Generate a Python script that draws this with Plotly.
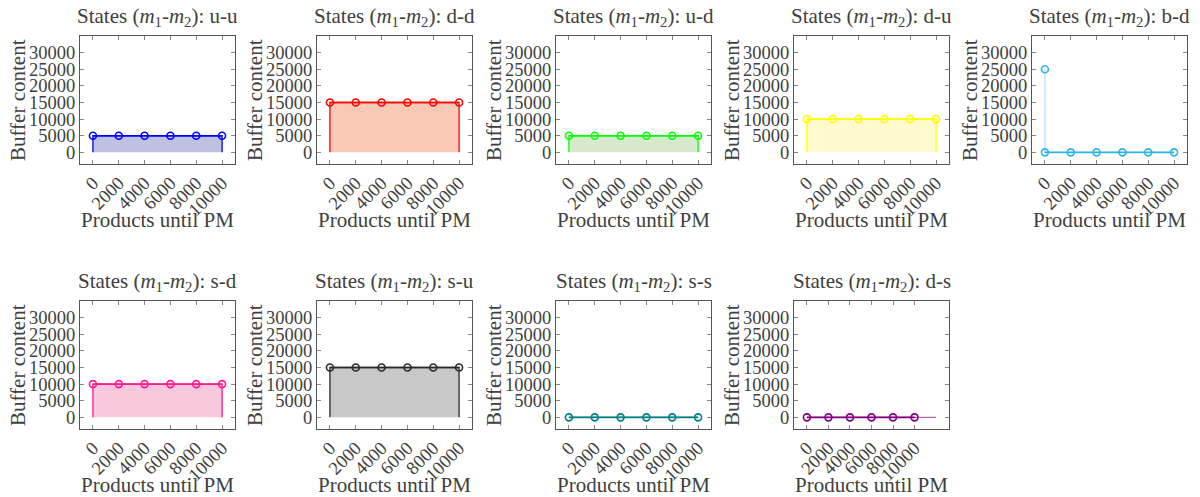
import plotly.graph_objects as go

# ---------------- data ----------------
states = ["u-u", "d-d", "u-d", "d-u", "b-d", "s-d", "s-u", "s-s", "d-s"]

products_uu = [0, 2000, 4000, 6000, 8000, 10000]
buffer_uu = [5000, 5000, 5000, 5000, 5000, 5000]
products_dd = [0, 2000, 4000, 6000, 8000, 10000]
buffer_dd = [15000, 15000, 15000, 15000, 15000, 15000]
products_ud = [0, 2000, 4000, 6000, 8000, 10000]
buffer_ud = [5000, 5000, 5000, 5000, 5000, 5000]
products_du = [0, 2000, 4000, 6000, 8000, 10000]
buffer_du = [10000, 10000, 10000, 10000, 10000, 10000]
products_bd = [0, 0, 2000, 4000, 6000, 8000, 10000]
buffer_bd = [25000, 0, 0, 0, 0, 0, 0]
products_sd = [0, 2000, 4000, 6000, 8000, 10000]
buffer_sd = [10000, 10000, 10000, 10000, 10000, 10000]
products_su = [0, 2000, 4000, 6000, 8000, 10000]
buffer_su = [15000, 15000, 15000, 15000, 15000, 15000]
products_ss = [0, 2000, 4000, 6000, 8000, 10000]
buffer_ss = [0, 0, 0, 0, 0, 0]
products_ds = [0, 2000, 4000, 6000, 8000, 10000]
buffer_ds = [0, 0, 0, 0, 0, 0]
# filled area of d-s extends further than the markers
fill_products_ds = [0, 2000, 4000, 6000, 8000, 10000, 12000]
fill_buffer_ds = [0, 0, 0, 0, 0, 0, 0]

x_ticks = [0, 2000, 4000, 6000, 8000, 10000]
y_ticks = [0, 5000, 10000, 15000, 20000, 25000, 30000]
y_range = [-3500, 35000]

series = {
    "u-u": (products_uu, buffer_uu, products_uu, buffer_uu),
    "d-d": (products_dd, buffer_dd, products_dd, buffer_dd),
    "u-d": (products_ud, buffer_ud, products_ud, buffer_ud),
    "d-u": (products_du, buffer_du, products_du, buffer_du),
    "b-d": (products_bd, buffer_bd, products_bd, buffer_bd),
    "s-d": (products_sd, buffer_sd, products_sd, buffer_sd),
    "s-u": (products_su, buffer_su, products_su, buffer_su),
    "s-s": (products_ss, buffer_ss, products_ss, buffer_ss),
    "d-s": (products_ds, buffer_ds, fill_products_ds, fill_buffer_ds),
}

# ---------------- styles ----------------
line_colors = {"u-u": "#0000ff", "d-d": "#ff0000", "u-d": "#00ff00", "d-u": "#ffff00",
               "b-d": "#2fb4ea", "s-d": "#ff1a94", "s-u": "#2a2a2a", "s-s": "#008080",
               "d-s": "#800080"}
edge_colors = {"u-u": "#0000ff", "d-d": "#ff0000", "u-d": "#00ff00", "d-u": "#ffff00",
               "b-d": "#b5e3f7", "s-d": "#ff1a94", "s-u": "#2a2a2a", "s-s": "#008080",
               "d-s": "#b070b0"}
fill_colors = {"u-u": "#bfc1e1", "d-d": "#f9c9b5", "u-d": "#d6eacb", "d-u": "#fffacd",
               "b-d": "#b3e5fc", "s-d": "#f8c9dd", "s-u": "#c8c8c8", "s-s": "#b2d8d8",
               "d-s": "#d8b2d8"}

W, H = 1200, 497
col_left = [80, 317, 556, 794, 1032]
box_w = 155
row_top = [36, 301]
box_h = 128

FONT = "Liberation Serif"
TXT = "#404040"

fig = go.Figure()
annotations = []

for i, st in enumerate(states):
    r, c = divmod(i, 5)
    n = i + 1
    xa = "x" if n == 1 else f"x{n}"
    ya = "y" if n == 1 else f"y{n}"
    px, py, fx, fy = series[st]

    # filled polygon (area under curve down to zero)
    poly_x = [fx[0]] + list(fx) + [fx[-1]]
    poly_y = [0] + list(fy) + [0]
    fig.add_trace(go.Scatter(x=poly_x, y=poly_y, mode="lines", fill="toself",
                             fillcolor=fill_colors[st],
                             line=dict(color=edge_colors[st], width=1.3),
                             xaxis=xa, yaxis=ya, showlegend=False, hoverinfo="skip"))
    # main line: break where consecutive points share the same x
    lx, ly = [], []
    for k in range(len(px)):
        if k > 0 and px[k] == px[k - 1]:
            lx.append(None)
            ly.append(None)
        lx.append(px[k])
        ly.append(py[k])
    fig.add_trace(go.Scatter(x=lx, y=ly, mode="lines",
                             line=dict(color=line_colors[st], width=1.6),
                             xaxis=xa, yaxis=ya, showlegend=False))
    fig.add_trace(go.Scatter(x=px, y=py, mode="markers",
                             marker=dict(symbol="circle-open", size=7,
                                         color=line_colors[st],
                                         line=dict(width=1.6, color=line_colors[st])),
                             xaxis=xa, yaxis=ya, showlegend=False))

    all_x = list(px) + list(fx)
    span = max(all_x) - min(all_x)
    xr = [min(all_x) - 0.1 * span, max(all_x) + 0.1 * span]

    x0 = col_left[c] / W
    x1 = (col_left[c] + box_w) / W
    y1 = 1 - row_top[r] / H
    y0 = 1 - (row_top[r] + box_h) / H

    axis_common = dict(showline=True, linecolor="#555555", linewidth=1, mirror="ticks",
                       ticks="inside", ticklen=4, tickcolor="#888888", tickwidth=1,
                       showgrid=False, zeroline=False,
                       tickfont=dict(family=FONT, size=18.5, color=TXT))
    fig.layout[("xaxis" if n == 1 else f"xaxis{n}")] = dict(
        domain=[x0, x1], anchor=ya, range=xr, tickvals=x_ticks,
        ticktext=[str(v) for v in x_ticks], tickangle=-45, **axis_common)
    fig.layout[("yaxis" if n == 1 else f"yaxis{n}")] = dict(
        domain=[y0, y1], anchor=xa, range=y_range, tickvals=y_ticks,
        ticktext=[str(v) for v in y_ticks], **axis_common)

    cx = (x0 + x1) / 2
    annotations.append(dict(
        text=f"States (<i>m</i><sub>1</sub>-<i>m</i><sub>2</sub>): {st}",
        x=cx, y=1 - (row_top[r] - 19) / H, xref="paper", yref="paper",
        xanchor="center", yanchor="middle", showarrow=False,
        font=dict(family=FONT, size=21, color=TXT)))
    annotations.append(dict(
        text="Products until PM", x=cx, y=1 - (row_top[r] + box_h + 56) / H,
        xref="paper", yref="paper", xanchor="center", yanchor="middle",
        showarrow=False, font=dict(family=FONT, size=21, color=TXT)))
    annotations.append(dict(
        text="Buffer content", x=(col_left[c] - 62) / W,
        y=1 - (row_top[r] + box_h / 2) / H, xref="paper", yref="paper",
        xanchor="center", yanchor="middle", textangle=-90, showarrow=False,
        font=dict(family=FONT, size=21, color=TXT)))

fig.update_layout(width=W, height=H, margin=dict(l=0, r=0, t=0, b=0),
                  paper_bgcolor="white", plot_bgcolor="white",
                  annotations=annotations, showlegend=False)

fig.write_html("out.html", config={"displayModeBar": False},
               post_script="document.body.style.margin='0';document.body.style.overflow='hidden';")
